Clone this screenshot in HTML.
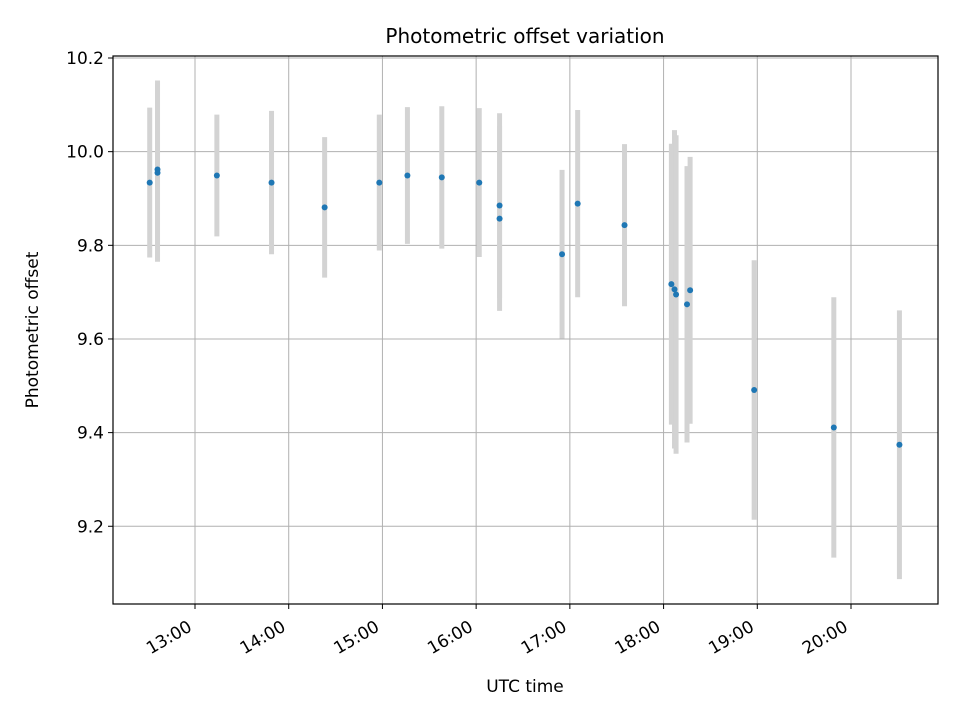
<!DOCTYPE html>
<html><head><meta charset="utf-8"><style>
html,body{margin:0;padding:0;background:#fff;}
svg{display:block;font-family:"DejaVu Sans","Liberation Sans",sans-serif;}
</style></head><body>
<svg id="chart" width="960" height="720" viewBox="0 0 960 720" xmlns="http://www.w3.org/2000/svg">
<rect width="960" height="720" fill="#fff"/>
<text x="525" y="43" text-anchor="middle" font-size="20">Photometric offset variation</text>
<text x="525" y="692" text-anchor="middle" font-size="17">UTC time</text>
<text transform="translate(38,330) rotate(-90)" text-anchor="middle" font-size="17">Photometric offset</text>
<g id="grid"></g><g id="bars"></g><g id="pts"></g><g id="axes"></g>
</svg>
<script>
const times = ["12:31","12:36","12:36","13:14","13:49","14:23","14:58","15:16","15:38","16:02","16:15","16:15","16:55","17:05","17:35","18:05","18:07","18:08","18:15","18:17","18:58","19:49","20:31"];
const offsets = [9.934,9.962,9.955,9.949,9.934,9.881,9.934,9.949,9.945,9.934,9.885,9.857,9.781,9.889,9.843,9.717,9.706,9.695,9.674,9.704,9.491,9.411,9.374];
const errors = [0.16,0.19,0.19,0.13,0.153,0.15,0.145,0.146,0.152,0.159,0.197,0.197,0.18,0.2,0.173,0.30,0.34,0.34,0.295,0.285,0.277,0.278,0.287];
const yTicks = [9.2,9.4,9.6,9.8,10.0,10.2];
const xTickLabels = ["13:00","14:00","15:00","16:00","17:00","18:00","19:00","20:00"];

const L=113,R=938,T=56,B=604;
const xMin=7.5,xMax=535.7,yMin=9.034,yMax=10.2043;
function toMin(s){const p=s.split(":");return (+p[0]-12)*60+(+p[1]);}
function xs(m){return L+(m-xMin)/(xMax-xMin)*(R-L);}
function ys(v){return B-(v-yMin)/(yMax-yMin)*(B-T);}
const NS="http://www.w3.org/2000/svg";
function mk(tag,attrs,parent){const e=document.createElementNS(NS,tag);for(const k in attrs)e.setAttribute(k,attrs[k]);parent.appendChild(e);return e;}
const grid=document.getElementById('grid'),axes=document.getElementById('axes'),bars=document.getElementById('bars'),pts=document.getElementById('pts');

yTicks.forEach(v=>{const y=ys(v);
 const g=mk('line',{x1:L,x2:R,y1:y,y2:y,stroke:'#b0b0b0','stroke-width':1},grid);
 
 
 const t=mk('line',{x1:L-5,x2:L,y1:y,y2:y,stroke:'#000','stroke-width':1},axes);
 
 
 const lb=mk('text',{x:L-9,y:y+6,'text-anchor':'end','font-size':17},axes);
 lb.textContent=v.toFixed(1);
 
 
});
xTickLabels.forEach(s=>{const x=xs(toMin(s));
 const g=mk('line',{x1:x,x2:x,y1:T,y2:B,stroke:'#b0b0b0','stroke-width':1},grid);
 
 
 const t=mk('line',{x1:x,x2:x,y1:B,y2:B+5,stroke:'#000','stroke-width':1},axes);
 
 
 const lb=mk('text',{x:0,y:0,'text-anchor':'end','font-size':17,transform:`translate(${x-2},${B+26}) rotate(-30)`},axes);
 lb.textContent=s;
 
 
});
times.forEach((s,i)=>{const x=xs(toMin(s));
 const b=mk('line',{x1:x,x2:x,y1:ys(offsets[i]+errors[i]),y2:ys(offsets[i]-errors[i]),stroke:'#d3d3d3','stroke-width':5},bars);
 
 
});
times.forEach((s,i)=>{const x=xs(toMin(s));
 const c=mk('circle',{cx:x,cy:ys(offsets[i]),r:3,fill:'#1f77b4'},pts);
 
 
});
const fr=mk('rect',{x:L,y:T,width:R-L,height:B-T,fill:'none',stroke:'#000','stroke-width':1.2},axes);


</script>
</body></html>
